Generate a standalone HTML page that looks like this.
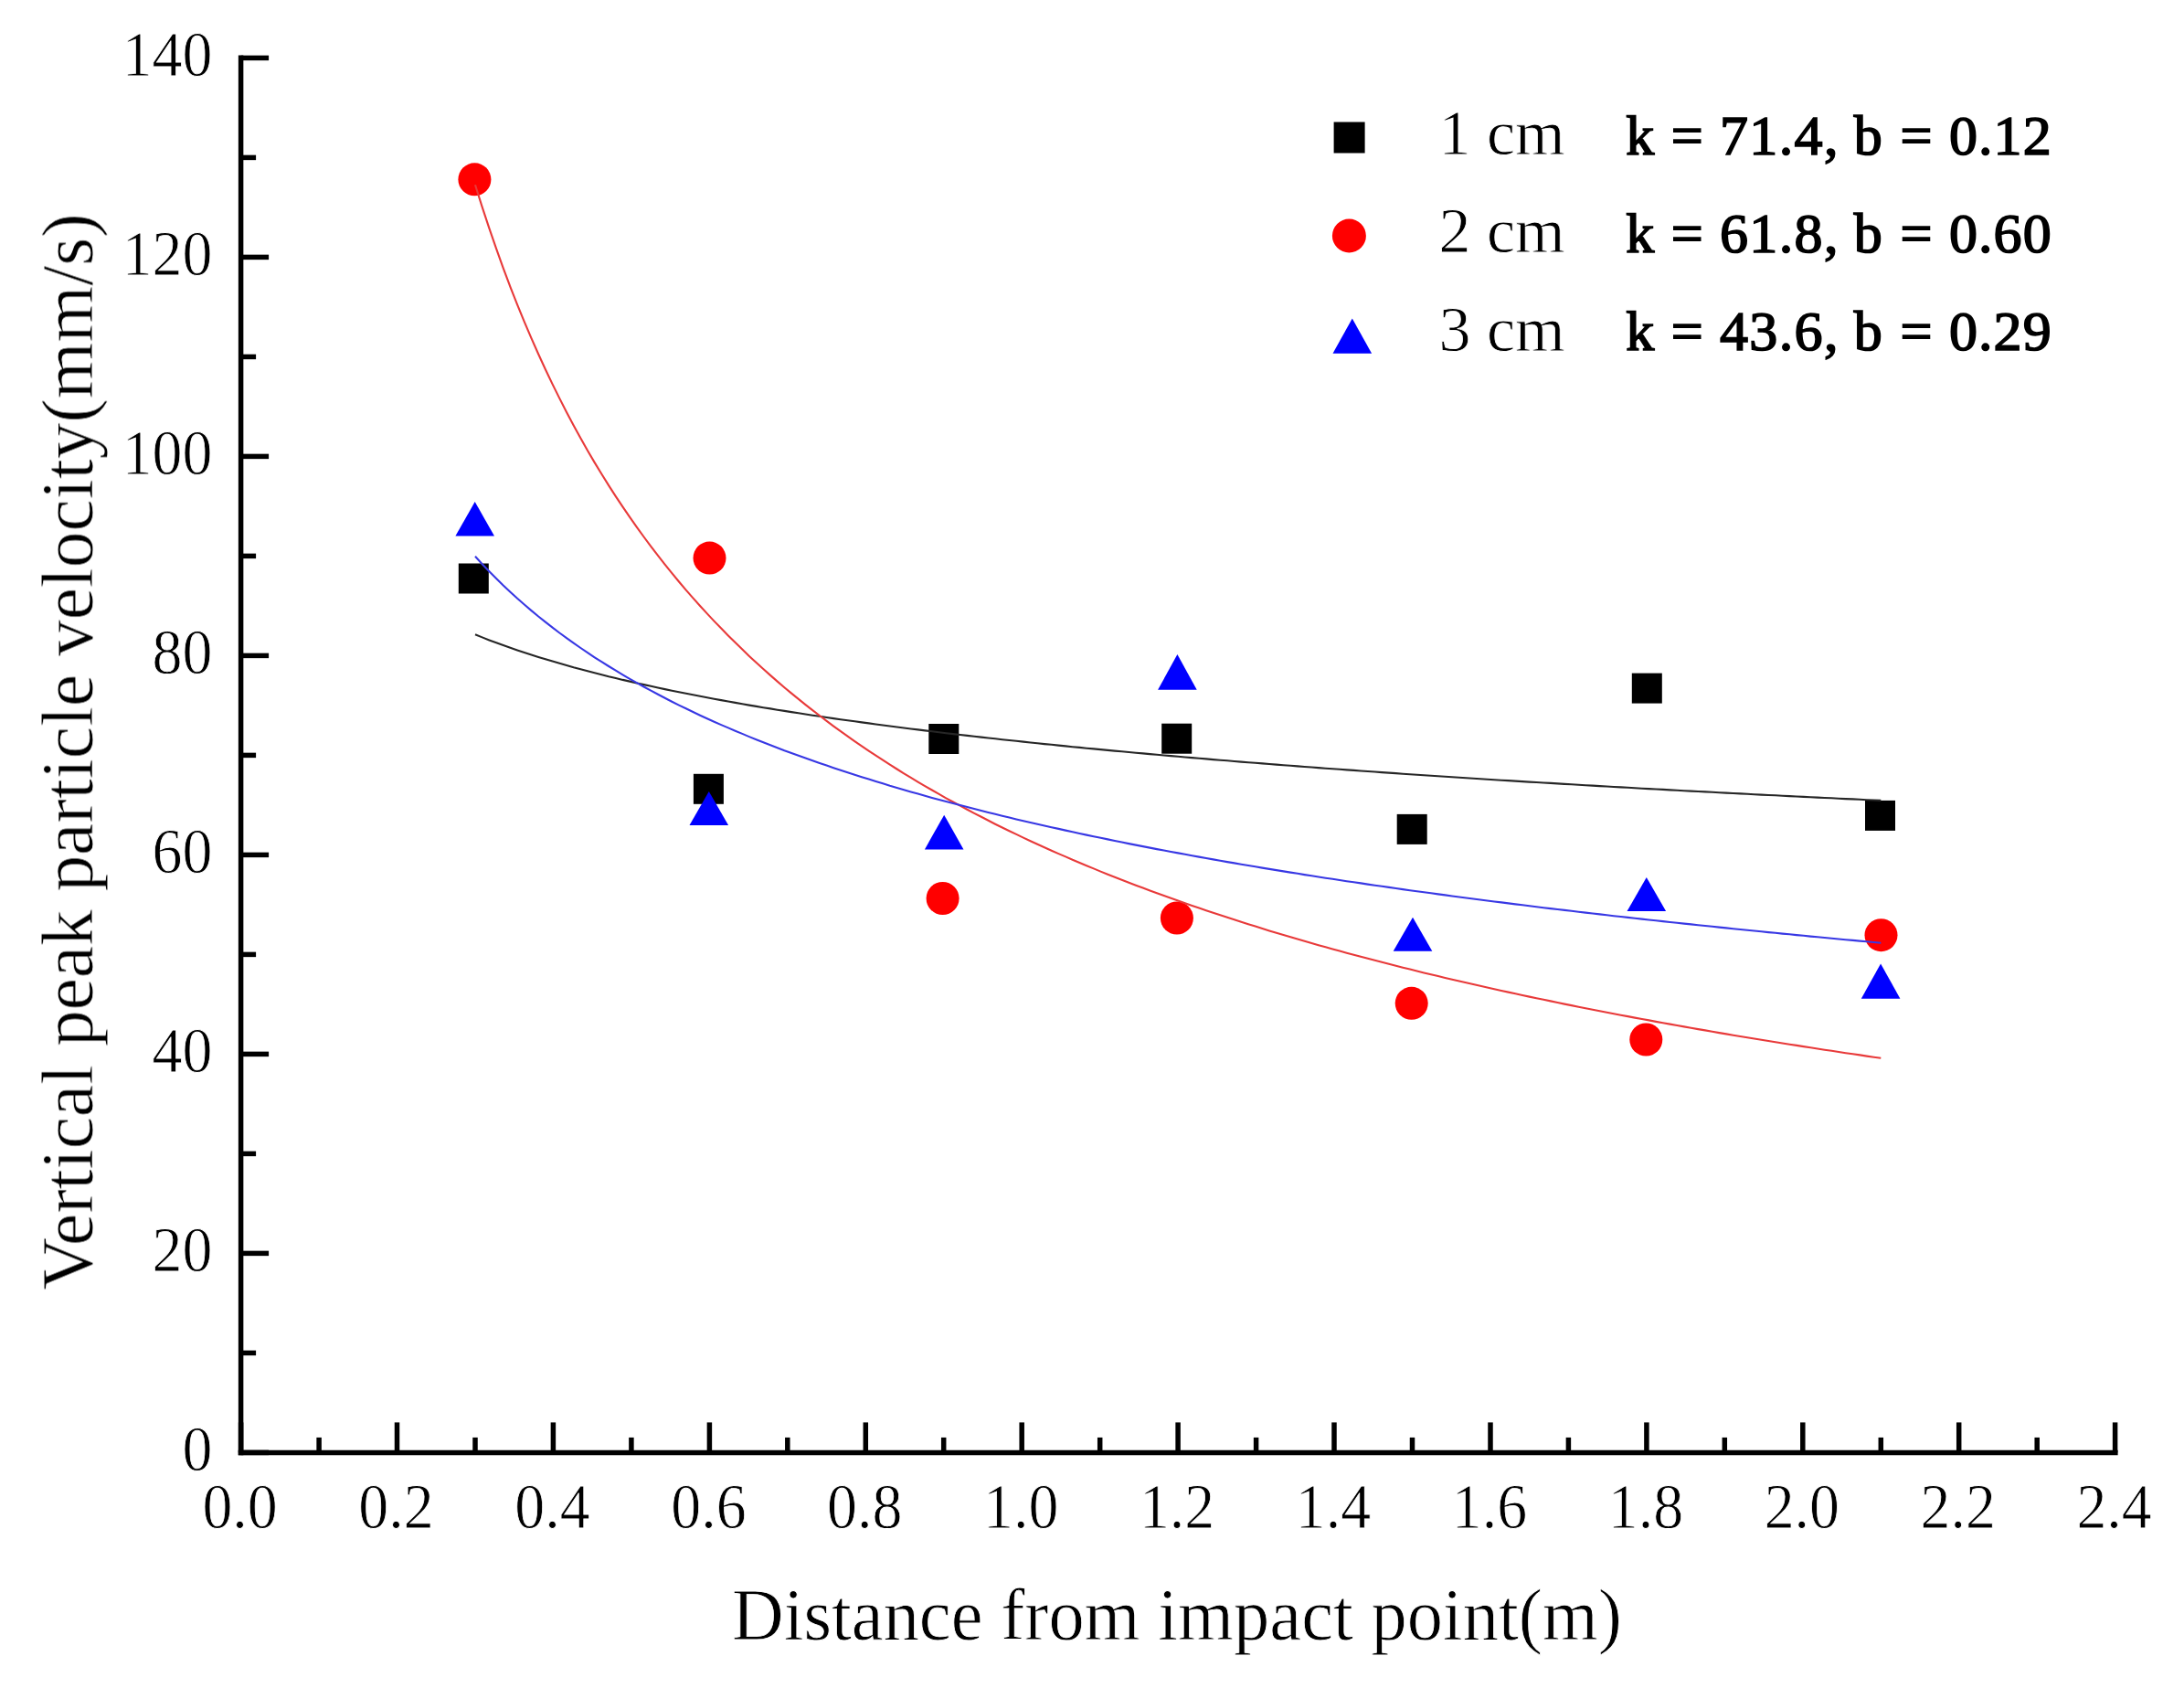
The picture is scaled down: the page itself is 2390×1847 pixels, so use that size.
<!DOCTYPE html><html><head><meta charset="utf-8"><style>html,body{margin:0;padding:0;background:#fff;overflow:hidden}svg{display:block}</style></head><body>
<svg width="2390" height="1847" viewBox="0 0 2390 1847">
<defs><filter id="soft" x="0" y="0" width="100%" height="100%" filterUnits="userSpaceOnUse" color-interpolation-filters="sRGB"><feGaussianBlur stdDeviation="0.55"/></filter></defs>
<rect width="100%" height="100%" fill="#fff"/>
<g filter="url(#soft)">
<g stroke="#000" stroke-width="5.5" fill="none" stroke-linecap="butt">
<path d="M263.6 60.5 V1592.3"/>
<path d="M260.7 1589.4 H2317.6"/>
<path d="M263.6 1589.4 H294.1"/>
<path d="M263.6 1480.4 H280.1"/>
<path d="M263.6 1371.4 H294.1"/>
<path d="M263.6 1262.4 H280.1"/>
<path d="M263.6 1153.4 H294.1"/>
<path d="M263.6 1044.4 H280.1"/>
<path d="M263.6 935.4 H294.1"/>
<path d="M263.6 826.4 H280.1"/>
<path d="M263.6 717.4 H294.1"/>
<path d="M263.6 608.4 H280.1"/>
<path d="M263.6 499.4 H294.1"/>
<path d="M263.6 390.4 H280.1"/>
<path d="M263.6 281.4 H294.1"/>
<path d="M263.6 172.4 H280.1"/>
<path d="M263.6 63.4 H294.1"/>
<path d="M263.6 1589.4 V1556.4"/>
<path d="M349.1 1589.4 V1572.9"/>
<path d="M434.5 1589.4 V1556.4"/>
<path d="M520.0 1589.4 V1572.9"/>
<path d="M605.4 1589.4 V1556.4"/>
<path d="M690.9 1589.4 V1572.9"/>
<path d="M776.4 1589.4 V1556.4"/>
<path d="M861.8 1589.4 V1572.9"/>
<path d="M947.3 1589.4 V1556.4"/>
<path d="M1032.7 1589.4 V1572.9"/>
<path d="M1118.2 1589.4 V1556.4"/>
<path d="M1203.7 1589.4 V1572.9"/>
<path d="M1289.1 1589.4 V1556.4"/>
<path d="M1374.6 1589.4 V1572.9"/>
<path d="M1460.0 1589.4 V1556.4"/>
<path d="M1545.5 1589.4 V1572.9"/>
<path d="M1631.0 1589.4 V1556.4"/>
<path d="M1716.4 1589.4 V1572.9"/>
<path d="M1801.9 1589.4 V1556.4"/>
<path d="M1887.3 1589.4 V1572.9"/>
<path d="M1972.8 1589.4 V1556.4"/>
<path d="M2058.3 1589.4 V1572.9"/>
<path d="M2143.7 1589.4 V1556.4"/>
<path d="M2229.2 1589.4 V1572.9"/>
<path d="M2314.6 1589.4 V1556.4"/>
</g>
<g font-family="Liberation Serif, Times New Roman, serif" font-size="69" fill="#000" stroke="#fff" stroke-width="0.8">
<text transform="translate(232.5 1609.1) scale(0.955 1)" text-anchor="end">0</text>
<text transform="translate(232.5 1391.1) scale(0.955 1)" text-anchor="end">20</text>
<text transform="translate(232.5 1173.1) scale(0.955 1)" text-anchor="end">40</text>
<text transform="translate(232.5 955.1) scale(0.955 1)" text-anchor="end">60</text>
<text transform="translate(232.5 737.1) scale(0.955 1)" text-anchor="end">80</text>
<text transform="translate(232.5 519.1) scale(0.955 1)" text-anchor="end">100</text>
<text transform="translate(232.5 301.1) scale(0.955 1)" text-anchor="end">120</text>
<text transform="translate(232.5 83.1) scale(0.955 1)" text-anchor="end">140</text>
<text transform="translate(262.6 1671.5) scale(0.955 1)" text-anchor="middle">0.0</text>
<text transform="translate(433.5 1671.5) scale(0.955 1)" text-anchor="middle">0.2</text>
<text transform="translate(604.4 1671.5) scale(0.955 1)" text-anchor="middle">0.4</text>
<text transform="translate(775.4 1671.5) scale(0.955 1)" text-anchor="middle">0.6</text>
<text transform="translate(946.3 1671.5) scale(0.955 1)" text-anchor="middle">0.8</text>
<text transform="translate(1117.2 1671.5) scale(0.955 1)" text-anchor="middle">1.0</text>
<text transform="translate(1288.1 1671.5) scale(0.955 1)" text-anchor="middle">1.2</text>
<text transform="translate(1459.0 1671.5) scale(0.955 1)" text-anchor="middle">1.4</text>
<text transform="translate(1630.0 1671.5) scale(0.955 1)" text-anchor="middle">1.6</text>
<text transform="translate(1800.9 1671.5) scale(0.955 1)" text-anchor="middle">1.8</text>
<text transform="translate(1971.8 1671.5) scale(0.955 1)" text-anchor="middle">2.0</text>
<text transform="translate(2142.7 1671.5) scale(0.955 1)" text-anchor="middle">2.2</text>
<text transform="translate(2313.6 1671.5) scale(0.955 1)" text-anchor="middle">2.4</text>
</g>
<g font-family="Liberation Serif, Times New Roman, serif" font-size="80" fill="#000" stroke="#fff" stroke-width="0.8">
<text x="801" y="1794" textLength="974" lengthAdjust="spacingAndGlyphs">Distance from impact point(m)</text>
<text transform="translate(101 1411.5) rotate(-90)" x="0" y="0" textLength="1178" lengthAdjust="spacingAndGlyphs">Vertical peak particle velocity(mm/s)</text>
</g>
<rect x="501.8" y="616.5" width="33" height="33" fill="#000"/>
<rect x="758.9" y="846.8" width="33" height="33" fill="#000"/>
<rect x="1016.3" y="792.0" width="33" height="33" fill="#000"/>
<rect x="1271.2" y="791.7" width="33" height="33" fill="#000"/>
<rect x="1528.7" y="890.9" width="33" height="33" fill="#000"/>
<rect x="1785.8" y="736.6" width="33" height="33" fill="#000"/>
<rect x="2041.0" y="875.9" width="33" height="33" fill="#000"/>
<circle cx="519.4" cy="196.3" r="18" fill="#ff0000"/>
<circle cx="776.5" cy="610.6" r="18" fill="#ff0000"/>
<circle cx="1031.6" cy="983.0" r="18" fill="#ff0000"/>
<circle cx="1287.9" cy="1004.5" r="18" fill="#ff0000"/>
<circle cx="1544.7" cy="1097.8" r="18" fill="#ff0000"/>
<circle cx="1801.3" cy="1137.5" r="18" fill="#ff0000"/>
<circle cx="2058.5" cy="1023.2" r="18" fill="#ff0000"/>
<path d="M519.7 549.1 L541.0 586.5 L498.4 586.5 Z" fill="#0000ff"/>
<path d="M775.8 866.0 L797.1 903.0 L754.5 903.0 Z" fill="#0000ff"/>
<path d="M1033.2 891.7 L1054.5 929.4 L1011.9 929.4 Z" fill="#0000ff"/>
<path d="M1288.4 716.1 L1309.7 754.8 L1267.1 754.8 Z" fill="#0000ff"/>
<path d="M1546.0 1003.7 L1567.3 1040.7 L1524.7 1040.7 Z" fill="#0000ff"/>
<path d="M1801.8 960.0 L1823.1 997.0 L1780.5 997.0 Z" fill="#0000ff"/>
<path d="M2058.1 1054.4 L2079.4 1092.7 L2036.8 1092.7 Z" fill="#0000ff"/>
<polyline points="520.0,694.3 527.7,697.4 535.4,700.4 543.1,703.3 550.7,706.1 558.4,708.8 566.1,711.4 573.8,714.0 581.5,716.5 589.2,718.9 596.9,721.3 604.6,723.6 612.3,725.8 620.0,728.0 627.7,730.2 635.4,732.2 643.0,734.3 650.7,736.3 658.4,738.2 666.1,740.2 673.8,742.0 681.5,743.9 689.2,745.6 696.9,747.4 704.6,749.1 712.3,750.8 720.0,752.5 727.6,754.1 735.3,755.7 743.0,757.3 750.7,758.8 758.4,760.3 766.1,761.8 773.8,763.3 781.5,764.7 789.2,766.1 796.9,767.5 804.6,768.9 812.3,770.2 819.9,771.6 827.6,772.9 835.3,774.2 843.0,775.4 850.7,776.7 858.4,777.9 866.1,779.1 873.8,780.3 881.5,781.5 889.2,782.7 896.9,783.8 904.6,785.0 912.2,786.1 919.9,787.2 927.6,788.3 935.3,789.3 943.0,790.4 950.7,791.4 958.4,792.5 966.1,793.5 973.8,794.5 981.5,795.5 989.2,796.5 996.8,797.5 1004.5,798.4 1012.2,799.4 1019.9,800.3 1027.6,801.2 1035.3,802.2 1043.0,803.1 1050.7,804.0 1058.4,804.9 1066.1,805.7 1073.8,806.6 1081.5,807.5 1089.1,808.3 1096.8,809.2 1104.5,810.0 1112.2,810.8 1119.9,811.6 1127.6,812.5 1135.3,813.3 1143.0,814.1 1150.7,814.8 1158.4,815.6 1166.1,816.4 1173.7,817.2 1181.4,817.9 1189.1,818.7 1196.8,819.4 1204.5,820.1 1212.2,820.9 1219.9,821.6 1227.6,822.3 1235.3,823.0 1243.0,823.7 1250.7,824.4 1258.4,825.1 1266.0,825.8 1273.7,826.5 1281.4,827.1 1289.1,827.8 1296.8,828.5 1304.5,829.1 1312.2,829.8 1319.9,830.4 1327.6,831.1 1335.3,831.7 1343.0,832.3 1350.7,833.0 1358.3,833.6 1366.0,834.2 1373.7,834.8 1381.4,835.4 1389.1,836.0 1396.8,836.6 1404.5,837.2 1412.2,837.8 1419.9,838.4 1427.6,839.0 1435.3,839.5 1442.9,840.1 1450.6,840.7 1458.3,841.2 1466.0,841.8 1473.7,842.4 1481.4,842.9 1489.1,843.5 1496.8,844.0 1504.5,844.5 1512.2,845.1 1519.9,845.6 1527.6,846.1 1535.2,846.7 1542.9,847.2 1550.6,847.7 1558.3,848.2 1566.0,848.7 1573.7,849.2 1581.4,849.7 1589.1,850.2 1596.8,850.7 1604.5,851.2 1612.2,851.7 1619.9,852.2 1627.5,852.7 1635.2,853.2 1642.9,853.7 1650.6,854.1 1658.3,854.6 1666.0,855.1 1673.7,855.6 1681.4,856.0 1689.1,856.5 1696.8,856.9 1704.5,857.4 1712.1,857.9 1719.8,858.3 1727.5,858.7 1735.2,859.2 1742.9,859.6 1750.6,860.1 1758.3,860.5 1766.0,861.0 1773.7,861.4 1781.4,861.8 1789.1,862.2 1796.8,862.7 1804.4,863.1 1812.1,863.5 1819.8,863.9 1827.5,864.4 1835.2,864.8 1842.9,865.2 1850.6,865.6 1858.3,866.0 1866.0,866.4 1873.7,866.8 1881.4,867.2 1889.0,867.6 1896.7,868.0 1904.4,868.4 1912.1,868.8 1919.8,869.2 1927.5,869.6 1935.2,870.0 1942.9,870.3 1950.6,870.7 1958.3,871.1 1966.0,871.5 1973.7,871.9 1981.3,872.2 1989.0,872.6 1996.7,873.0 2004.4,873.3 2012.1,873.7 2019.8,874.1 2027.5,874.4 2035.2,874.8 2042.9,875.2 2050.6,875.5 2058.3,875.9" fill="none" stroke="#262626" stroke-width="2.1"/>
<polyline points="520.0,202.2 527.7,226.6 535.4,249.9 543.1,272.1 550.7,293.4 558.4,313.8 566.1,333.3 573.8,352.1 581.5,370.2 589.2,387.5 596.9,404.2 604.6,420.4 612.3,435.9 620.0,450.9 627.7,465.4 635.4,479.4 643.0,493.0 650.7,506.1 658.4,518.8 666.1,531.1 673.8,543.1 681.5,554.7 689.2,565.9 696.9,576.9 704.6,587.5 712.3,597.8 720.0,607.9 727.6,617.7 735.3,627.2 743.0,636.5 750.7,645.6 758.4,654.4 766.1,663.0 773.8,671.4 781.5,679.6 789.2,687.6 796.9,695.5 804.6,703.1 812.3,710.6 819.9,717.9 827.6,725.1 835.3,732.0 843.0,738.9 850.7,745.6 858.4,752.2 866.1,758.6 873.8,764.9 881.5,771.1 889.2,777.1 896.9,783.0 904.6,788.9 912.2,794.6 919.9,800.2 927.6,805.7 935.3,811.1 943.0,816.4 950.7,821.6 958.4,826.7 966.1,831.7 973.8,836.6 981.5,841.5 989.2,846.3 996.8,850.9 1004.5,855.6 1012.2,860.1 1019.9,864.5 1027.6,868.9 1035.3,873.3 1043.0,877.5 1050.7,881.7 1058.4,885.8 1066.1,889.9 1073.8,893.8 1081.5,897.8 1089.1,901.7 1096.8,905.5 1104.5,909.2 1112.2,912.9 1119.9,916.6 1127.6,920.2 1135.3,923.7 1143.0,927.2 1150.7,930.7 1158.4,934.1 1166.1,937.4 1173.7,940.8 1181.4,944.0 1189.1,947.2 1196.8,950.4 1204.5,953.6 1212.2,956.7 1219.9,959.7 1227.6,962.7 1235.3,965.7 1243.0,968.7 1250.7,971.6 1258.4,974.4 1266.0,977.3 1273.7,980.1 1281.4,982.8 1289.1,985.6 1296.8,988.3 1304.5,991.0 1312.2,993.6 1319.9,996.2 1327.6,998.8 1335.3,1001.3 1343.0,1003.8 1350.7,1006.3 1358.3,1008.8 1366.0,1011.2 1373.7,1013.6 1381.4,1016.0 1389.1,1018.4 1396.8,1020.7 1404.5,1023.0 1412.2,1025.3 1419.9,1027.5 1427.6,1029.8 1435.3,1032.0 1442.9,1034.2 1450.6,1036.3 1458.3,1038.5 1466.0,1040.6 1473.7,1042.7 1481.4,1044.7 1489.1,1046.8 1496.8,1048.8 1504.5,1050.8 1512.2,1052.8 1519.9,1054.8 1527.6,1056.8 1535.2,1058.7 1542.9,1060.6 1550.6,1062.5 1558.3,1064.4 1566.0,1066.3 1573.7,1068.1 1581.4,1069.9 1589.1,1071.7 1596.8,1073.5 1604.5,1075.3 1612.2,1077.1 1619.9,1078.8 1627.5,1080.5 1635.2,1082.3 1642.9,1084.0 1650.6,1085.6 1658.3,1087.3 1666.0,1089.0 1673.7,1090.6 1681.4,1092.2 1689.1,1093.8 1696.8,1095.4 1704.5,1097.0 1712.1,1098.6 1719.8,1100.1 1727.5,1101.7 1735.2,1103.2 1742.9,1104.7 1750.6,1106.2 1758.3,1107.7 1766.0,1109.2 1773.7,1110.7 1781.4,1112.1 1789.1,1113.6 1796.8,1115.0 1804.4,1116.4 1812.1,1117.9 1819.8,1119.3 1827.5,1120.6 1835.2,1122.0 1842.9,1123.4 1850.6,1124.7 1858.3,1126.1 1866.0,1127.4 1873.7,1128.8 1881.4,1130.1 1889.0,1131.4 1896.7,1132.7 1904.4,1134.0 1912.1,1135.2 1919.8,1136.5 1927.5,1137.8 1935.2,1139.0 1942.9,1140.2 1950.6,1141.5 1958.3,1142.7 1966.0,1143.9 1973.7,1145.1 1981.3,1146.3 1989.0,1147.5 1996.7,1148.7 2004.4,1149.8 2012.1,1151.0 2019.8,1152.2 2027.5,1153.3 2035.2,1154.4 2042.9,1155.6 2050.6,1156.7 2058.3,1157.8" fill="none" stroke="#e83a3a" stroke-width="2.1"/>
<polyline points="520.0,608.8 527.7,617.2 535.4,625.2 543.1,633.0 550.7,640.5 558.4,647.7 566.1,654.8 573.8,661.5 581.5,668.1 589.2,674.5 596.9,680.6 604.6,686.6 612.3,692.5 620.0,698.1 627.7,703.6 635.4,709.0 643.0,714.2 650.7,719.3 658.4,724.2 666.1,729.0 673.8,733.7 681.5,738.3 689.2,742.8 696.9,747.2 704.6,751.5 712.3,755.7 720.0,759.8 727.6,763.8 735.3,767.7 743.0,771.6 750.7,775.3 758.4,779.0 766.1,782.7 773.8,786.2 781.5,789.7 789.2,793.1 796.9,796.4 804.6,799.7 812.3,802.9 819.9,806.1 827.6,809.2 835.3,812.3 843.0,815.3 850.7,818.2 858.4,821.2 866.1,824.0 873.8,826.8 881.5,829.6 889.2,832.3 896.9,835.0 904.6,837.6 912.2,840.2 919.9,842.8 927.6,845.3 935.3,847.8 943.0,850.2 950.7,852.6 958.4,855.0 966.1,857.3 973.8,859.7 981.5,861.9 989.2,864.2 996.8,866.4 1004.5,868.6 1012.2,870.7 1019.9,872.9 1027.6,875.0 1035.3,877.0 1043.0,879.1 1050.7,881.1 1058.4,883.1 1066.1,885.1 1073.8,887.0 1081.5,888.9 1089.1,890.8 1096.8,892.7 1104.5,894.6 1112.2,896.4 1119.9,898.2 1127.6,900.0 1135.3,901.8 1143.0,903.5 1150.7,905.2 1158.4,906.9 1166.1,908.6 1173.7,910.3 1181.4,912.0 1189.1,913.6 1196.8,915.2 1204.5,916.8 1212.2,918.4 1219.9,920.0 1227.6,921.5 1235.3,923.1 1243.0,924.6 1250.7,926.1 1258.4,927.6 1266.0,929.1 1273.7,930.5 1281.4,932.0 1289.1,933.4 1296.8,934.8 1304.5,936.2 1312.2,937.6 1319.9,939.0 1327.6,940.4 1335.3,941.7 1343.0,943.1 1350.7,944.4 1358.3,945.7 1366.0,947.0 1373.7,948.3 1381.4,949.6 1389.1,950.9 1396.8,952.1 1404.5,953.4 1412.2,954.6 1419.9,955.8 1427.6,957.1 1435.3,958.3 1442.9,959.5 1450.6,960.7 1458.3,961.8 1466.0,963.0 1473.7,964.2 1481.4,965.3 1489.1,966.4 1496.8,967.6 1504.5,968.7 1512.2,969.8 1519.9,970.9 1527.6,972.0 1535.2,973.1 1542.9,974.2 1550.6,975.2 1558.3,976.3 1566.0,977.3 1573.7,978.4 1581.4,979.4 1589.1,980.5 1596.8,981.5 1604.5,982.5 1612.2,983.5 1619.9,984.5 1627.5,985.5 1635.2,986.5 1642.9,987.4 1650.6,988.4 1658.3,989.4 1666.0,990.3 1673.7,991.3 1681.4,992.2 1689.1,993.2 1696.8,994.1 1704.5,995.0 1712.1,995.9 1719.8,996.8 1727.5,997.7 1735.2,998.6 1742.9,999.5 1750.6,1000.4 1758.3,1001.3 1766.0,1002.2 1773.7,1003.0 1781.4,1003.9 1789.1,1004.8 1796.8,1005.6 1804.4,1006.5 1812.1,1007.3 1819.8,1008.1 1827.5,1009.0 1835.2,1009.8 1842.9,1010.6 1850.6,1011.4 1858.3,1012.2 1866.0,1013.0 1873.7,1013.8 1881.4,1014.6 1889.0,1015.4 1896.7,1016.2 1904.4,1017.0 1912.1,1017.8 1919.8,1018.5 1927.5,1019.3 1935.2,1020.1 1942.9,1020.8 1950.6,1021.6 1958.3,1022.3 1966.0,1023.1 1973.7,1023.8 1981.3,1024.6 1989.0,1025.3 1996.7,1026.0 2004.4,1026.7 2012.1,1027.5 2019.8,1028.2 2027.5,1028.9 2035.2,1029.6 2042.9,1030.3 2050.6,1031.0 2058.3,1031.7" fill="none" stroke="#3838e4" stroke-width="2.1"/>
<rect x="1459.6" y="133.5" width="34" height="34" fill="#000"/>
<circle cx="1476.4" cy="258" r="18.5" fill="#ff0000"/>
<path d="M1479.8 348.4 L1501.1 386.8 L1458.5 386.8 Z" fill="#0000ff"/>
<g font-family="Liberation Serif, Times New Roman, serif" font-size="70" fill="#000" stroke="#fff" stroke-width="0.8">
<text x="1574.5" y="168.5">1 cm</text>
<text x="1574.5" y="276.0">2 cm</text>
<text x="1574.5" y="383.5">3 cm</text>
</g>
<g font-family="Liberation Serif, Times New Roman, serif" font-size="62" fill="#000" stroke="#000" stroke-width="1.7" text-anchor="middle">
<text x="1794.7 1820.0 1846.3 1872.0 1897.5 1929.8 1954.4 1979.0 2003.8 2024.0 2044.2 2070.0 2096.9 2122.0 2148.5 2172.7 2197.0 2229.3" y="168.6">k = 71.4, b = 0.12</text>
<text x="1794.7 1820.0 1846.3 1872.0 1897.5 1929.8 1954.4 1979.0 2003.8 2024.0 2044.2 2070.0 2096.9 2122.0 2148.5 2172.7 2197.0 2229.3" y="275.8">k = 61.8, b = 0.60</text>
<text x="1794.7 1820.0 1846.3 1872.0 1897.5 1929.8 1954.4 1979.0 2003.8 2024.0 2044.2 2070.0 2096.9 2122.0 2148.5 2172.7 2197.0 2229.3" y="383.0">k = 43.6, b = 0.29</text>
</g>
</g>
</svg></body></html>
